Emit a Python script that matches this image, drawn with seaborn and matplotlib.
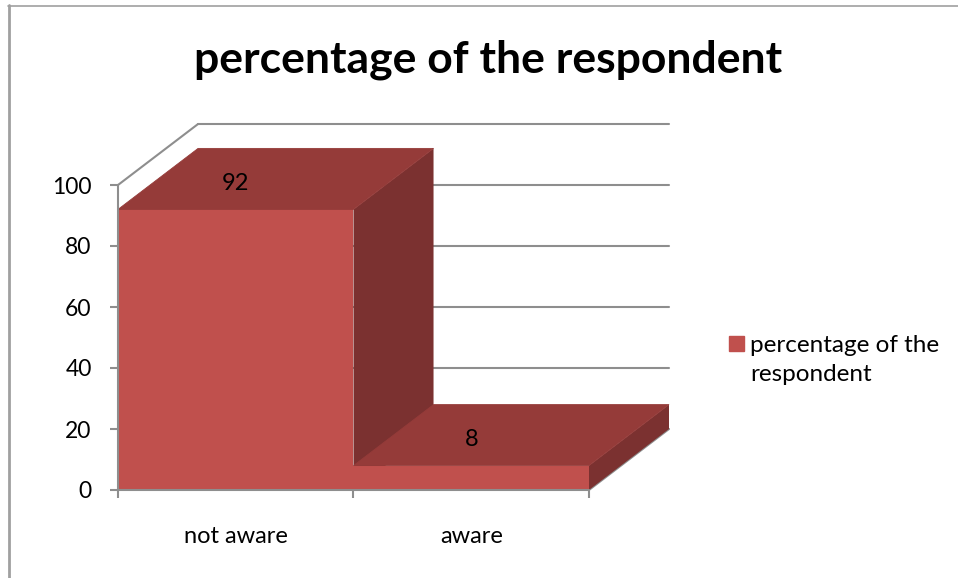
import matplotlib
matplotlib.use("Agg")
import matplotlib.pyplot as plt
from matplotlib.patches import Patch
import seaborn as sns

categories = ["not aware", "aware"]
values = [92, 8]
series_name = "percentage of the respondent"
y_ticks = [0, 20, 40, 60, 80, 100]

FRONT = "#C0504D"
TOP = "#953B39"
SIDE = "#7B3130"
GREY = "#8E8E8E"

# depth of the fake 3d box, in data units
DEPTH_X = 0.34
DEPTH_Y = 20

sns.set_theme(style="white")
plt.rcParams["font.family"] = ["Lato", "DejaVu Sans"]

W, H = 958, 578
fig = plt.figure(figsize=(W / 100, H / 100), dpi=100, facecolor="white")
# front plane runs 118..589 px, 0 at y=490, 100 at y=185
ax = fig.add_axes([118 / W, 1 - 490 / H, (669 - 118) / W, (490 - 124) / H])

sns.barplot(x=categories, y=values, width=1, color=FRONT, saturation=1,
            linewidth=0, zorder=3, ax=ax)
ax.set_xlim(-0.5, 1.5 + DEPTH_X)
ax.set_ylim(0, 100 + DEPTH_Y)

# back wall gridlines and the left wall diagonal
for t in y_ticks[1:]:
    ax.plot([-0.5 + DEPTH_X, 1.5 + DEPTH_X], [t + DEPTH_Y] * 2, color=GREY, lw=1.5,
            zorder=1, clip_on=False)
ax.plot([-0.5, -0.5 + DEPTH_X], [100, 100 + DEPTH_Y], color=GREY, lw=1.5, zorder=1, clip_on=False)
ax.plot([1.5, 1.5 + DEPTH_X], [0, DEPTH_Y], color=GREY, lw=1.5, zorder=1, clip_on=False)

# top and side faces
for i, v in enumerate(values):
    left, right = i - 0.5, i + 0.5
    ax.fill([left, right, right + DEPTH_X, left + DEPTH_X],
            [v, v, v + DEPTH_Y, v + DEPTH_Y], color=TOP, lw=0.6, zorder=4, clip_on=False)
    ax.fill([right, right + DEPTH_X, right + DEPTH_X, right],
            [v, v + DEPTH_Y, DEPTH_Y, 0], color=SIDE, lw=0, zorder=2 + 0.1 * (i + 1), clip_on=False)
    ax.text(i, v + 0.43 * DEPTH_Y, str(v), ha="center", va="center", fontsize=17,
            color="black", zorder=6)

sns.despine(ax=ax, top=True, right=True, left=True, bottom=True)
ax.plot([-0.5, -0.5], [0, 100], color=GREY, lw=1.5, zorder=5, clip_on=False)
ax.plot([-0.5, 1.5], [0, 0], color=GREY, lw=1.5, zorder=5, clip_on=False)

ax.set_yticks(y_ticks)
ax.set_yticklabels([str(t) for t in y_ticks])
ax.set_xticks([-0.5, 0.5, 1.5])
ax.set_xticklabels([])
ax.set_xticks([0, 1], labels=categories, minor=True)
ax.tick_params(axis="y", length=6, width=1.5, color=GREY, labelsize=16.5, pad=13,
               left=True, labelcolor="black")
ax.tick_params(axis="x", which="major", length=6, width=1.5, color=GREY, bottom=True)
ax.tick_params(axis="x", which="minor", length=0, labelsize=17, pad=26, labelcolor="black")
ax.set_xlabel("")
ax.set_ylabel("")

fig.text(488 / W, 1 - 60 / H, "percentage of the respondent", ha="center", va="center",
         fontsize=32, fontweight="bold", color="black")

# legend, second line of the label gets an empty handle
handles = [Patch(color=FRONT), Patch(color="none")]
fig.legend(handles, ["percentage of the", "respondent"], loc="upper left",
           bbox_to_anchor=(729 / W, 1 - 335 / H), frameon=False, fontsize=17.5,
           handlelength=0.62, handleheight=0.62, handletextpad=0.25, labelspacing=0.33,
           borderpad=0, borderaxespad=0, labelcolor="black")

# chart frame, only left and top edges show in the crop
fig.add_artist(plt.Line2D([9 / W, 9 / W], [0, 1 - 5 / H], color="#A0A0A0", lw=2))
fig.add_artist(plt.Line2D([8 / W, 1], [1 - 5.5 / H, 1 - 5.5 / H], color="#A0A0A0", lw=1.2))

fig.savefig("out.png", dpi=100)
